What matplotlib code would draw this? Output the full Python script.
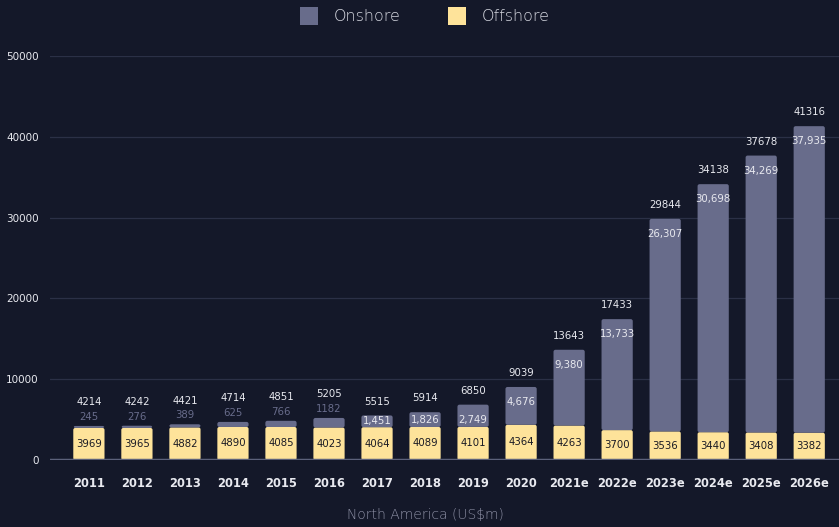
import matplotlib.pyplot as plt
from matplotlib.patches import Patch, FancyBboxPatch

years = ['2011', '2012', '2013', '2014', '2015', '2016', '2017', '2018',
         '2019', '2020', '2021e', '2022e', '2023e', '2024e', '2025e', '2026e']
totals = [4214, 4242, 4421, 4714, 4851, 5205, 5515, 5914,
          6850, 9039, 13643, 17433, 29844, 34138, 37678, 41316]
onshore = [245, 276, 389, 625, 766, 1182, 1451, 1826,
           2749, 4676, 9380, 13733, 26307, 30698, 34269, 37935]
offshore_labels = ['3969', '3965', '4882', '4890', '4085', '4023', '4064', '4089',
                   '4101', '4364', '4263', '3700', '3536', '3440', '3408', '3382']

bg = '#141829'
c_on = '#686c8b'
c_off = '#fee39a'
txt = '#e8e9ef'

plt.rcParams['font.family'] = 'DejaVu Sans'

fig = plt.figure(figsize=(8.39, 5.27), dpi=100, facecolor=bg)
ax = fig.add_axes([50 / 839, 67 / 527, 789 / 839, 404 / 527], facecolor=bg)

x = list(range(len(years)))
# offshore part is drawn as total minus onshore (labels as published)
off_h = [t - o for t, o in zip(totals, onshore)]
w = 0.65
ax.set_xlim(-0.81, 15.62)
ax.set_ylim(0, 50000)

# rounded bars: ~2px corner radius, aspect corrected for px per unit
px_x = 789 / (15.62 + 0.81)
px_y = 404 / 50000
for i in x:
    for b, h, c in ((0, off_h[i], c_off), (off_h[i], onshore[i], c_on)):
        p = FancyBboxPatch((i - w / 2, b), w, h,
                           boxstyle='round,pad=0,rounding_size=%f' % (2.0 / px_x),
                           mutation_aspect=px_x / px_y, fc=c, ec='none', zorder=3)
        ax.add_patch(p)

ax.set_yticks(range(0, 50001, 10000))
ax.grid(axis='y', color='#2b3046', lw=0.9, zorder=0)
ax.axhline(0, color='#5c617a', lw=2.5, zorder=4)
for s in ax.spines.values():
    s.set_visible(False)
ax.tick_params(length=0, colors=txt)
ax.tick_params(axis='y', labelsize=7.5, pad=8)
ax.tick_params(axis='x', labelsize=8.3, pad=12)
ax.set_xticks(x)
ax.set_xticklabels(years, fontweight='bold')

fs = 7.3
for i in x:
    top = totals[i]
    # offshore label in middle of yellow segment
    ax.text(i, off_h[i] / 2, offshore_labels[i], ha='center', va='center',
            fontsize=fs, color='#1a1a24', zorder=5)
    if onshore[i] < 1400:
        ax.annotate(f'{onshore[i]}', (i, top), xytext=(0, 3), textcoords='offset points',
                    ha='center', va='bottom', fontsize=fs, color=c_on)
        ax.annotate(f'{top}', (i, top), xytext=(0, 17), textcoords='offset points',
                    ha='center', va='center', fontsize=fs, color=txt)
    else:
        lab = f'{onshore[i]:,}'
        if onshore[i] < 2000:
            ax.text(i, off_h[i] + onshore[i] / 2, lab, ha='center', va='center',
                    fontsize=fs, color=txt, zorder=5)
        else:
            ax.annotate(lab, (i, top), xytext=(0, -11), textcoords='offset points',
                        ha='center', va='center', fontsize=fs, color=txt, zorder=5)
        ax.annotate(f'{top}', (i, top), xytext=(0, 10), textcoords='offset points',
                    ha='center', va='center', fontsize=fs, color=txt)

fig.text(425 / 839, 1 - 515 / 527, 'North America (US$m)', ha='center', va='center',
         fontsize=10, color='#8e91a6', fontweight='light')

handles = [Patch(facecolor=c_on, label='Onshore'), Patch(facecolor=c_off, label='Offshore')]
leg = fig.legend(handles=handles, loc='center', bbox_to_anchor=(425 / 839, 1 - 16 / 527),
                 ncol=2, frameon=False, fontsize=11.5, handlelength=1.1, handleheight=1.4,
                 handletextpad=1.0, columnspacing=3.0)
for t in leg.get_texts():
    t.set_color('#d4d6df')
    t.set_fontweight('light')

fig.savefig('out.png', dpi=100, facecolor=bg)
